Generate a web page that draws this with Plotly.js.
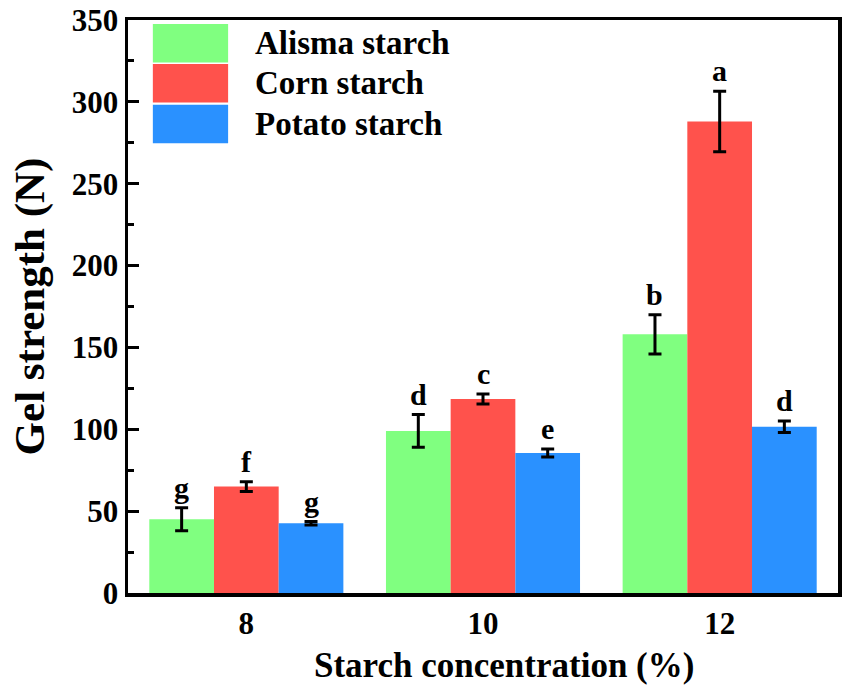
<!DOCTYPE html>
<html>
<head>
<meta charset="utf-8">
<script src="https://cdn.plot.ly/plotly-3.0.1.min.js"></script>
<style>
  html, body { margin: 0; padding: 0; background: #fff; }
  #plot { width: 851px; height: 696px; }
</style>
</head>
<body>
<div id="plot"></div>
<script>
const concentrations = ['8', '10', '12']
const seriesNames = ['Alisma starch', 'Corn starch', 'Potato starch']
const alismaValues = [45, 99, 158]
const cornValues = [65, 118.5, 288]
const potatoValues = [42.6, 85.5, 101.5]
const alismaErrors = [7, 10, 12]
const cornErrors = [3, 3, 18.5]
const potatoErrors = [1, 2.5, 3.5]
const alismaLetters = ['g', 'd', 'b']
const cornLetters = ['f', 'c', 'a']
const potatoLetters = ['g', 'e', 'd']

const colors = ['rgb(128, 255, 128)', 'rgb(255, 82, 76)', 'rgb(42, 145, 255)']
const fontFamily = '"Liberation Serif", "Times New Roman", serif'
const barGap = 0.18

const values = [alismaValues, cornValues, potatoValues]
const errors = [alismaErrors, cornErrors, potatoErrors]
const letters = [alismaLetters, cornLetters, potatoLetters]

const data = values.map((vals, s) => {
    return {
        type: 'bar',
        x: concentrations,
        y: vals,
        name: seriesNames[s],
        marker: { color: colors[s], line: { width: 0 } },
        error_y: {
            type: 'data',
            array: errors[s],
            visible: true,
            color: '#000',
            thickness: 3,
            width: 6.5
        }
    }
})

// significance letters over each error bar
const barWidth = (1 - barGap) / seriesNames.length
const annotations = []
values.forEach((vals, s) => {
    vals.forEach((v, i) => {
        annotations.push({
            x: i + (s - 1) * barWidth,
            y: v + errors[s][i],
            xref: 'x',
            yref: 'y',
            text: letters[s][i],
            showarrow: false,
            yanchor: 'bottom',
            yshift: 2,
            font: { family: fontFamily, size: 30, color: '#000', weight: 'bold' }
        })
    })
})

// legend drawn by hand to get the large swatches
const shapes = []
const rowTop = [0.993, 0.923, 0.852]
const rowHeight = 0.067
seriesNames.forEach((name, s) => {
    shapes.push({
        type: 'rect',
        xref: 'paper',
        yref: 'paper',
        x0: 0.035,
        x1: 0.141,
        y0: rowTop[s] - rowHeight,
        y1: rowTop[s],
        fillcolor: colors[s],
        line: { width: 0 }
    })
    annotations.push({
        x: 0.176,
        y: rowTop[s] - rowHeight / 2,
        xref: 'paper',
        yref: 'paper',
        text: name,
        showarrow: false,
        xanchor: 'left',
        yanchor: 'middle',
        font: { family: fontFamily, size: 33, color: '#000', weight: 'bold' }
    })
})

// x title sits a little right of the axis centre in the original
annotations.push({
    x: 0.53,
    y: -0.126,
    xref: 'paper',
    yref: 'paper',
    text: 'Starch concentration (%)',
    showarrow: false,
    xanchor: 'center',
    yanchor: 'middle',
    font: { family: fontFamily, size: 35, color: '#000', weight: 'bold' }
})

const layout = {
    width: 851,
    height: 696,
    margin: { l: 128, r: 13, t: 20, b: 103 },
    paper_bgcolor: '#fff',
    plot_bgcolor: '#fff',
    font: { family: fontFamily, color: '#000', weight: 'bold' },
    showlegend: false,
    barmode: 'group',
    bargap: barGap,
    bargroupgap: 0,
    xaxis: {
        type: 'category',
        range: [-0.5, 2.5],
        showline: true,
        mirror: true,
        linecolor: '#000',
        linewidth: 3.5,
        ticks: '',
        showgrid: false,
        zeroline: false,
        tickfont: { family: fontFamily, size: 31, weight: 'bold' }
    },
    yaxis: {
        range: [0, 350],
        dtick: 50,
        showline: true,
        mirror: true,
        linecolor: '#000',
        linewidth: 3.5,
        ticks: 'inside',
        ticklen: 11,
        tickwidth: 3,
        tickcolor: '#000',
        minor: { ticks: 'inside', dtick: 25, ticklen: 6, tickwidth: 3, tickcolor: '#000' },
        showgrid: false,
        zeroline: false,
        tickfont: { family: fontFamily, size: 31, weight: 'bold' },
        title: {
            text: 'Gel strength (N)',
            font: { family: fontFamily, size: 43, weight: 'bold' },
            standoff: 14
        }
    },
    shapes: shapes,
    annotations: annotations
}

Plotly.newPlot('plot', data, layout, { displayModeBar: false, staticPlot: true })
</script>
</body>
</html>
